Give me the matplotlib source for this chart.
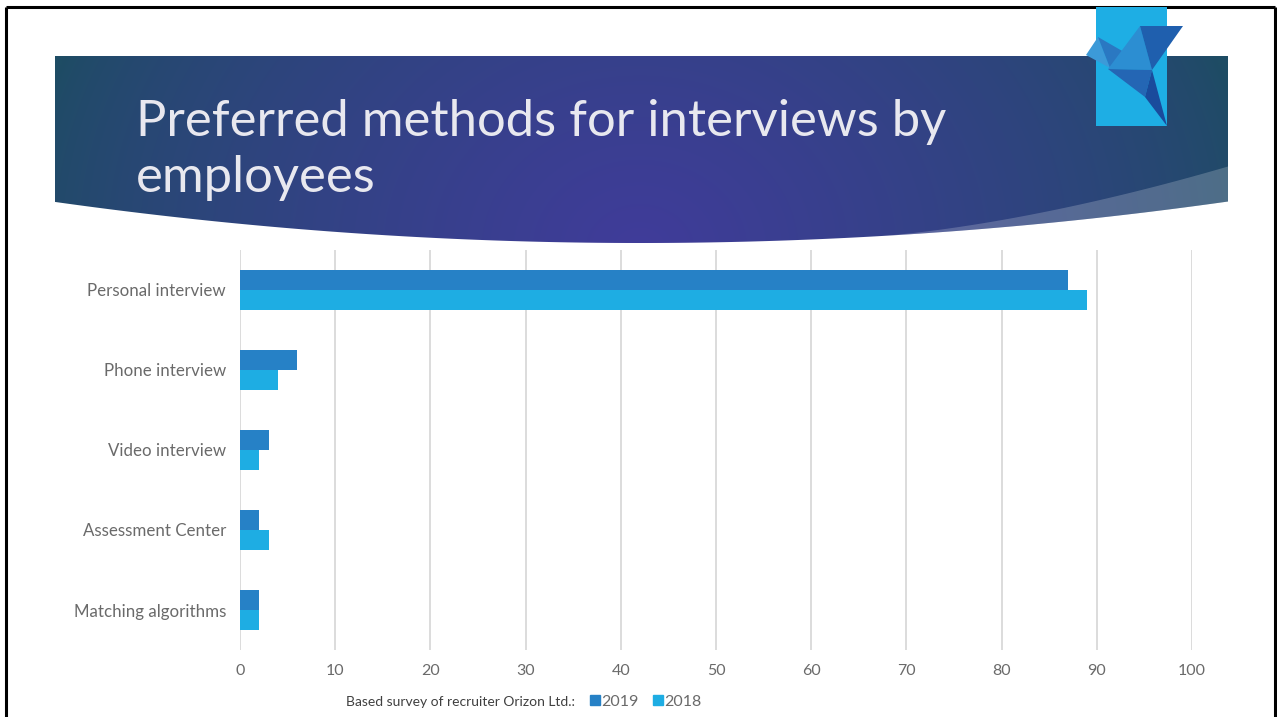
import numpy as np
import matplotlib
matplotlib.use("Agg")
import matplotlib.pyplot as plt
from matplotlib.patches import Polygon, Rectangle

plt.rcParams['font.family'] = ['Lato', 'DejaVu Sans']

# ---- data ----
categories = ["Personal interview", "Phone interview", "Video interview",
              "Assessment Center", "Matching algorithms"]
values_2019 = [87, 6, 3, 2, 2]
values_2018 = [89, 4, 2, 3, 2]
series_labels = ["2019", "2018"]
x_ticks = [0, 10, 20, 30, 40, 50, 60, 70, 80, 90, 100]
title_lines = ["Preferred methods for interviews by", "employees"]
legend_title = "Based survey of recruiter Orizon Ltd.:"

C2019 = "#2681C6"
C2018 = "#1EADE3"
LABEL_GREY = "#6A6A6A"

W, H = 1277, 717
fig = plt.figure(figsize=(W / 100, H / 100), dpi=100)
fig.patch.set_facecolor("white")

# ---- slide background layer in pixel coordinates ----
bg = fig.add_axes([0, 0, 1, 1])
bg.set_xlim(0, W)
bg.set_ylim(H, 0)
bg.axis("off")

# slide frame
bg.plot([6, 6], [7, H], color="black", lw=2.2, solid_capstyle="butt")
bg.plot([6, 1275], [7, 7], color="black", lw=2.2, solid_capstyle="butt")
bg.plot([1275, 1275], [7, H], color="black", lw=2.2, solid_capstyle="butt")

# banner with curved lower edge
x0, x1, ytop = 55, 1228, 56
def banner_bottom(x):
    return 243 - 1.2e-4 * (x - 640) ** 2

xs = np.linspace(x0, x1, 200)
verts = [(x0, ytop), (x1, ytop)] + [(x, banner_bottom(x)) for x in xs[::-1]]
banner = Polygon(verts, closed=True, facecolor="none", edgecolor="none")
bg.add_patch(banner)

# gradient: teal at the sides, indigo towards the lower middle
gx = np.linspace(x0, x1, 400)
gy = np.linspace(ytop, 245, 120)
GX, GY = np.meshgrid(gx, gy)
d = np.sqrt(((GX - 640) / 620.0) ** 2 + ((GY - 250) / 520.0) ** 2)
t = np.clip(1 - d, 0, 1) ** 0.7
teal = np.array([30, 76, 100]) / 255.0
indigo = np.array([64, 60, 154]) / 255.0
img = teal[None, None, :] * (1 - t[..., None]) + indigo[None, None, :] * t[..., None]
im = bg.imshow(img, extent=(x0, x1, 245, ytop), origin="upper", aspect="auto",
               interpolation="bilinear", zorder=1)
im.set_clip_path(banner)

# lighter swoosh at the lower right of the banner
sx = np.linspace(880, x1, 120)
upper = [(x, banner_bottom(x) - 35 * ((x - 880) / (x1 - 880)) ** 1.5) for x in sx]
lower = [(x, banner_bottom(x)) for x in sx[::-1]]
bg.add_patch(Polygon(upper + lower, closed=True, facecolor="white",
                     alpha=0.2, edgecolor="none", zorder=2))

# title, one text per line
for line, base in zip(title_lines, [136, 192]):
    bg.text(136, base, line, color="#E8E8EF", fontsize=36.5, fontweight="normal",
            ha="left", va="baseline", zorder=3)

# logo: light-blue block with origami bird
bg.add_patch(Rectangle((1096, 7), 71, 119, facecolor="#1EAEE4",
                       edgecolor="none", zorder=4))
bird = [
    ([(1086, 55), (1098, 37), (1110, 68)], "#3C9AD8"),
    ([(1098, 37), (1124, 52), (1110, 68)], "#2A78C2"),
    ([(1108, 69), (1140, 26), (1152, 70)], "#2C8ED2"),
    ([(1140, 26), (1183, 26), (1152, 70)], "#1F5FAE"),
    ([(1108, 69), (1152, 70), (1145, 97)], "#2466B4"),
    ([(1152, 70), (1167, 126), (1145, 97)], "#1A4B9C"),
]
for pts, col in bird:
    bg.add_patch(Polygon(pts, closed=True, facecolor=col, edgecolor="none",
                         zorder=5))

# ---- bar chart ----
ax_l, ax_r, ax_t, ax_b = 240, 1192, 250, 650
ax = fig.add_axes([ax_l / W, 1 - ax_b / H, (ax_r - ax_l) / W, (ax_b - ax_t) / H])
ax.patch.set_alpha(0)

y = np.arange(len(categories))
bh = 0.25
ax.barh(y - bh / 2, values_2019, height=bh, color=C2019, label=series_labels[0],
        zorder=3)
ax.barh(y + bh / 2, values_2018, height=bh, color=C2018, label=series_labels[1],
        zorder=3)

ax.set_xlim(0, 100)
ax.set_ylim(len(categories) - 0.5, -0.5)
ax.set_xticks(x_ticks)
ax.set_yticks(y)
ax.set_yticklabels(categories, fontsize=12.2)
ax.grid(axis="x", color="#D9D9D9", lw=1.3, zorder=0)
for s in ax.spines.values():
    s.set_visible(False)
ax.tick_params(axis="both", length=0, colors=LABEL_GREY)
ax.tick_params(axis="x", labelsize=11.5, pad=10)
ax.tick_params(axis="y", pad=10)

# legend line under the axis
handles = [Rectangle((0, 0), 1, 1, color=C2019), Rectangle((0, 0), 1, 1, color=C2018)]
leg = fig.legend(handles, series_labels, loc="center left",
                 bbox_to_anchor=(582 / W, 1 - 702 / H), ncol=2, frameon=False,
                 fontsize=11.5, handlelength=0.6, handleheight=0.6,
                 handletextpad=0.1, columnspacing=0.9, borderpad=0)
for txt in leg.get_texts():
    txt.set_color(LABEL_GREY)
fig.text(346 / W, 1 - 702 / H, legend_title, color="#404040", fontsize=10,
         ha="left", va="center")

fig.savefig("out.png", dpi=100)
